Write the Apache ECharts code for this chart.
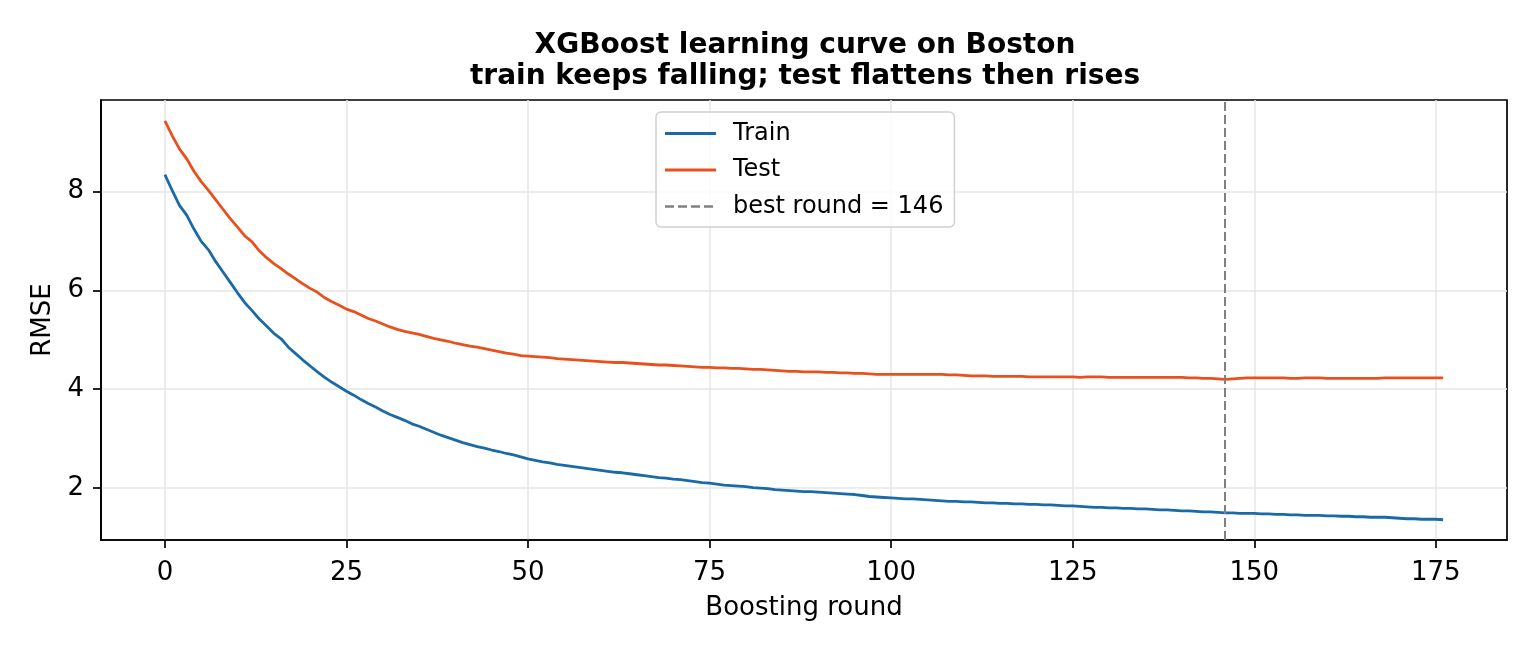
<!DOCTYPE html>
<html>
<head>
<meta charset="utf-8">
<script src="https://cdn.jsdelivr.net/npm/echarts@6/dist/echarts.min.js"></script>
<style>
  html, body { margin: 0; padding: 0; background: #fff; }
  #main { width: 1536px; height: 652px; }
</style>
</head>
<body>
<div id="main"></div>
<script>
//////////// data //////////////////
var trainRmse = [
    8.34, 8.02, 7.72, 7.52, 7.24, 6.99, 6.82, 6.58, 6.37, 6.16,
    5.95, 5.75, 5.59, 5.42, 5.28, 5.13, 5.02, 4.85, 4.72, 4.59,
    4.47, 4.35, 4.24, 4.14, 4.05, 3.96, 3.88, 3.79, 3.71, 3.64,
    3.56, 3.49, 3.43, 3.37, 3.30, 3.25, 3.19, 3.13, 3.07, 3.02,
    2.97, 2.92, 2.88, 2.84, 2.81, 2.77, 2.74, 2.70, 2.67, 2.63,
    2.59, 2.56, 2.53, 2.51, 2.48, 2.46, 2.44, 2.42, 2.40, 2.38,
    2.36, 2.34, 2.32, 2.31, 2.29, 2.27, 2.25, 2.23, 2.21, 2.20,
    2.18, 2.17, 2.15, 2.13, 2.11, 2.10, 2.08, 2.06, 2.05, 2.04,
    2.03, 2.01, 2.00, 1.99, 1.97, 1.96, 1.95, 1.94, 1.93, 1.93,
    1.92, 1.91, 1.90, 1.89, 1.88, 1.87, 1.85, 1.83, 1.82, 1.81,
    1.80, 1.79, 1.78, 1.78, 1.77, 1.76, 1.75, 1.74, 1.73, 1.73,
    1.72, 1.72, 1.71, 1.70, 1.70, 1.69, 1.69, 1.68, 1.68, 1.67,
    1.67, 1.66, 1.66, 1.65, 1.64, 1.64, 1.63, 1.62, 1.61, 1.61,
    1.60, 1.60, 1.59, 1.59, 1.58, 1.58, 1.57, 1.56, 1.56, 1.55,
    1.54, 1.54, 1.53, 1.52, 1.52, 1.51, 1.50, 1.50, 1.49, 1.49,
    1.49, 1.48, 1.48, 1.47, 1.47, 1.46, 1.46, 1.45, 1.45, 1.45,
    1.44, 1.44, 1.43, 1.43, 1.42, 1.42, 1.41, 1.41, 1.41, 1.40,
    1.39, 1.38, 1.38, 1.37, 1.37, 1.37, 1.36
];
var testRmse = [
    9.43, 9.13, 8.86, 8.66, 8.41, 8.20, 8.02, 7.83, 7.64, 7.45,
    7.28, 7.10, 6.98, 6.80, 6.66, 6.54, 6.44, 6.33, 6.23, 6.13,
    6.04, 5.96, 5.85, 5.77, 5.70, 5.62, 5.57, 5.50, 5.43, 5.38,
    5.32, 5.26, 5.21, 5.17, 5.14, 5.11, 5.07, 5.03, 5.00, 4.97,
    4.93, 4.90, 4.87, 4.85, 4.82, 4.79, 4.76, 4.73, 4.71, 4.68,
    4.67, 4.66, 4.65, 4.64, 4.62, 4.61, 4.60, 4.59, 4.58, 4.57,
    4.56, 4.55, 4.54, 4.54, 4.53, 4.52, 4.51, 4.50, 4.49, 4.49,
    4.48, 4.47, 4.46, 4.45, 4.44, 4.44, 4.43, 4.43, 4.42, 4.42,
    4.41, 4.40, 4.40, 4.39, 4.38, 4.37, 4.36, 4.36, 4.35, 4.35,
    4.35, 4.34, 4.34, 4.33, 4.33, 4.32, 4.32, 4.31, 4.30, 4.30,
    4.30, 4.30, 4.30, 4.30, 4.30, 4.30, 4.30, 4.30, 4.29, 4.29,
    4.28, 4.27, 4.27, 4.27, 4.26, 4.26, 4.26, 4.26, 4.26, 4.25,
    4.25, 4.25, 4.25, 4.25, 4.25, 4.25, 4.24, 4.25, 4.25, 4.25,
    4.24, 4.24, 4.24, 4.24, 4.24, 4.24, 4.24, 4.24, 4.24, 4.24,
    4.24, 4.23, 4.23, 4.22, 4.22, 4.21, 4.20, 4.21, 4.22, 4.23,
    4.23, 4.23, 4.23, 4.23, 4.23, 4.22, 4.22, 4.23, 4.23, 4.23,
    4.22, 4.22, 4.22, 4.22, 4.22, 4.22, 4.22, 4.22, 4.23, 4.23,
    4.23, 4.23, 4.23, 4.23, 4.23, 4.23, 4.23
];
var bestRound = 146;
var xTicks = [0, 25, 50, 75, 100, 125, 150, 175];
var yTicks = [2, 4, 6, 8];

// [round, rmse] pairs
var trainData = trainRmse.map(function (v, i) { return [i, v]; });
var testData = testRmse.map(function (v, i) { return [i, v]; });

var font = 'DejaVu Sans';
var lineIcon = 'path://M0,0h51v2.8h-51z';
var dashIcon = 'path://M0,0h9v2.4h-9z M13,0h9v2.4h-9z M26,0h9v2.4h-9z M39,0h9v2.4h-9z M51,0h0.01v2.4h-0.01z';

var chart_dom = document.getElementById('main');
var chart = echarts.init(chart_dom, null, { renderer: 'canvas' });
var option = {
    backgroundColor: '#FFFFFF',
    animation: false,
    title: {
        text: 'XGBoost learning curve on Boston\ntrain keeps falling; test flattens then rises',
        left: 800,
        top: 25,
        textAlign: 'center',
        textStyle: {
            fontFamily: font,
            fontSize: 28,
            fontWeight: 'bold',
            color: '#000',
            lineHeight: 31
        }
    },
    legend: {
        orient: 'vertical',
        left: 656,
        top: 112,
        padding: [8, 11, 7, 9],
        itemWidth: 51,
        itemHeight: 14,
        itemGap: 9.5,
        backgroundColor: 'rgba(255,255,255,0.85)',
        borderColor: '#d0d0d0',
        borderWidth: 1.5,
        borderRadius: 5,
        textStyle: {
            fontFamily: font,
            fontSize: 24,
            color: '#000',
            lineHeight: 27,
            padding: [0, 0, 0, 12]
        },
        data: [
            { name: 'Train', icon: lineIcon },
            { name: 'Test', icon: lineIcon },
            { name: 'best round = ' + bestRound, icon: dashIcon }
        ]
    },
    grid: {
        left: 101,
        right: 29,
        top: 100,
        bottom: 112,
        show: true,
        borderColor: '#000',
        borderWidth: 1.7,
        backgroundColor: 'transparent'
    },
    xAxis: {
        type: 'value',
        min: -8.8,
        max: 184.8,
        name: 'Boosting round',
        nameLocation: 'middle',
        nameGap: 55,
        nameTextStyle: { fontFamily: font, fontSize: 26, color: '#000' },
        axisLine: { show: true, onZero: false, lineStyle: { color: '#000', width: 1.7 } },
        axisTick: { show: true, length: 8, lineStyle: { color: '#000', width: 1.7 }, customValues: xTicks },
        axisLabel: { fontFamily: font, fontSize: 26, color: '#000', margin: 20, customValues: xTicks },
        splitLine: { show: true, lineStyle: { color: '#e6e6e6', width: 1.5 } }
    },
    yAxis: {
        type: 'value',
        min: 0.95,
        max: 9.85,
        name: 'RMSE',
        nameLocation: 'middle',
        nameGap: 45,
        nameRotate: 90,
        nameTextStyle: { fontFamily: font, fontSize: 26, color: '#000' },
        axisLine: { show: true, onZero: false, lineStyle: { color: '#000', width: 1.7 } },
        axisTick: { show: true, length: 8, lineStyle: { color: '#000', width: 1.7 }, customValues: yTicks },
        axisLabel: { fontFamily: font, fontSize: 26, color: '#000', margin: 17, customValues: yTicks },
        splitLine: { show: true, lineStyle: { color: '#e6e6e6', width: 1.5 } }
    },
    series: [
        {
            name: 'Train',
            type: 'line',
            data: trainData,
            showSymbol: false,
            symbol: 'none',
            color: '#1b6aa8',
            lineStyle: { color: '#1b6aa8', width: 2.8 },
            z: 3
        },
        {
            name: 'Test',
            type: 'line',
            data: testData,
            showSymbol: false,
            symbol: 'none',
            color: '#e8511c',
            lineStyle: { color: '#e8511c', width: 2.8 },
            z: 3
        },
        {
            name: 'best round = ' + bestRound,
            type: 'line',
            data: [],
            symbol: 'none',
            color: '#808080',
            lineStyle: { color: '#808080', width: 2, type: [9, 4] },
            markLine: {
                silent: true,
                symbol: ['none', 'none'],
                label: { show: false },
                lineStyle: { color: '#808080', width: 2, type: [9, 4] },
                data: [{ xAxis: bestRound }]
            },
            z: 2
        }
    ]
};
chart.setOption(option);
</script>
</body>
</html>
